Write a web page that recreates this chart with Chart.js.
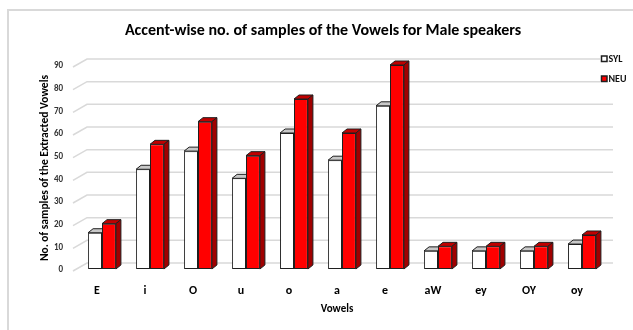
<!DOCTYPE html>
<html>
<head>
<meta charset="utf-8">
<script src="https://cdn.jsdelivr.net/npm/chart.js@4/dist/chart.umd.min.js"></script>
<style>
  html, body { margin: 0; padding: 0; background: #fff; overflow: hidden; }
  #wrap { width: 633px; height: 330px; position: relative; }
</style>
</head>
<body>
<div id="wrap"><canvas id="c" width="633" height="330"></canvas></div>
<script>
// Vowel categories and sample counts per accent
const vowels = ['E', 'i', 'O', 'u', 'o', 'a', 'e', 'aW', 'ey', 'OY', 'oy'];
const sylSamples = [16, 44, 52, 40, 60, 48, 72, 8, 8, 8, 11];
const neuSamples = [20, 55, 65, 50, 75, 60, 90, 10, 10, 10, 15];
const seriesNames = ['SYL', 'NEU'];
const chartTitle = 'Accent-wise no. of samples of the Vowels for Male speakers';
const xTitle = 'Vowels';
const yTitle = 'No. of samples of the Extracted Vowels';

const FONT = "Carlito, 'Liberation Sans Narrow', 'DejaVu Sans Condensed', Arial, sans-serif";
const FLOOR = { dx: 14, dy: 7 };      // depth of the back wall / floor
const BAR_DEPTH = { dx: 5, dy: 4 };   // depth of each column
const BAR_SHIFT = { x: 5, y: -1 };    // columns sit in the middle of the floor depth
const GRID_COLOR = '#d9d9d9';
const EDGE = '#1f1f1f';

// light frame around the whole chart, plus the heading
const framePlugin = {
  id: 'frame',
  beforeDraw(chart) {
    const ctx = chart.ctx;
    ctx.save();
    ctx.fillStyle = '#fff';
    ctx.fillRect(0, 0, chart.width, chart.height);
    ctx.strokeStyle = '#d9d9d9';
    ctx.lineWidth = 2;
    ctx.strokeRect(8, 10, chart.width + 40, chart.height + 40);
    ctx.fillStyle = '#000';
    ctx.font = "bold 16px " + FONT;
    ctx.textAlign = 'center';
    ctx.textBaseline = 'middle';
    ctx.fillText(chartTitle, 323, 31);
    ctx.restore();
  }
};

// back-wall gridlines with a short diagonal on the left side wall
const grid3dPlugin = {
  id: 'grid3d',
  beforeDatasetsDraw(chart) {
    const ctx = chart.ctx;
    const ys = chart.scales.y;
    const area = chart.chartArea;
    ctx.save();
    ctx.strokeStyle = GRID_COLOR;
    ctx.lineWidth = 1.5;
    ys.ticks.forEach(t => {
      const y = ys.getPixelForValue(t.value);
      ctx.beginPath();
      ctx.moveTo(area.left, y + 1);
      ctx.lineTo(area.left + FLOOR.dx, y - FLOOR.dy);
      ctx.lineTo(area.right + 12, y - FLOOR.dy);
      ctx.stroke();
    });
    ctx.restore();
    // shift the columns into the depth of the floor
    ctx.save();
    ctx.translate(BAR_SHIFT.x, BAR_SHIFT.y);
  },
  afterDatasetDraw(chart, args) {
    const ctx = chart.ctx;
    const meta = args.meta;
    const idx = args.index;
    const topColor = idx === 0 ? '#c8c8c8' : '#c00000';
    const sideColor = idx === 0 ? '#d9d9d9' : '#a00000';
    meta.data.forEach(el => {
      const p = el.getProps(['x', 'y', 'base', 'width'], true);
      const l = p.x - p.width / 2, r = p.x + p.width / 2;
      const t = p.y, b = p.base;
      ctx.save();
      ctx.lineWidth = 1;
      ctx.strokeStyle = EDGE;
      ctx.lineJoin = 'round';
      if (idx === 0) {
        // the neighbouring column hides the right part of this one
        ctx.beginPath();
        ctx.rect(l - 2, 0, p.width + 2, chart.height);
        ctx.clip();
      }
      // top face
      ctx.beginPath();
      ctx.moveTo(l, t);
      ctx.lineTo(l + BAR_DEPTH.dx, t - BAR_DEPTH.dy);
      ctx.lineTo(r + BAR_DEPTH.dx, t - BAR_DEPTH.dy);
      ctx.lineTo(r, t);
      ctx.closePath();
      ctx.fillStyle = topColor;
      ctx.fill();
      ctx.stroke();
      // side face
      ctx.beginPath();
      ctx.moveTo(r, t);
      ctx.lineTo(r + BAR_DEPTH.dx, t - BAR_DEPTH.dy);
      ctx.lineTo(r + BAR_DEPTH.dx, b - BAR_DEPTH.dy);
      ctx.lineTo(r, b);
      ctx.closePath();
      ctx.fillStyle = sideColor;
      ctx.fill();
      ctx.stroke();
      ctx.restore();
    });
  },
  afterDatasetsDraw(chart) {
    chart.ctx.restore();
  }
};

// compact legend in the upper right corner
const cornerLegendPlugin = {
  id: 'cornerLegend',
  afterDraw(chart) {
    const ctx = chart.ctx;
    ctx.save();
    chart.data.datasets.forEach((ds, i) => {
      const y = 59 + i * 20;
      ctx.fillStyle = '#fff';
      ctx.fillRect(600, y - 6, 33, 12);
      ctx.fillStyle = ds.backgroundColor;
      ctx.fillRect(601.5, y - 3, 5.5, 5.5);
      ctx.strokeStyle = EDGE;
      ctx.lineWidth = 1.5;
      ctx.strokeRect(601.5, y - 3, 5.5, 5.5);
      ctx.fillStyle = '#111';
      ctx.font = "bold 10px " + FONT;
      ctx.textBaseline = 'middle';
      ctx.textAlign = 'left';
      ctx.fillText(ds.label, 608.5, y);
    });
    ctx.restore();
  }
};

new Chart(document.getElementById('c'), {
  type: 'bar',
  data: {
    labels: vowels,
    datasets: [
      {
        label: seriesNames[0],
        data: sylSamples,
        backgroundColor: '#ffffff',
        borderColor: EDGE,
        borderWidth: 1,
        borderSkipped: false,
        categoryPercentage: 0.58,
        barPercentage: 1.0,
        clip: false
      },
      {
        label: seriesNames[1],
        data: neuSamples,
        backgroundColor: '#ff0000',
        borderColor: EDGE,
        borderWidth: 1,
        borderSkipped: false,
        categoryPercentage: 0.58,
        barPercentage: 1.0,
        clip: false
      }
    ]
  },
  options: {
    responsive: false,
    animation: false,
    devicePixelRatio: 1,
    layout: { padding: { left: 0, right: 32, top: 66, bottom: 0 } },
    plugins: {
      legend: { display: false },
      tooltip: { enabled: false },
      title: { display: false }
    },
    scales: {
      x: {
        grid: { display: false, drawTicks: false },
        border: { display: false },
        ticks: {
          color: '#000',
          font: { family: FONT, size: 12, weight: 'bold' },
          padding: 14,
          maxRotation: 0
        },
        title: {
          display: true,
          text: xTitle,
          color: '#000',
          font: { family: FONT, size: 11, weight: 'bold' },
          padding: { top: 0, bottom: 14 }
        },
        afterFit(scale) { scale.height = 60; }
      },
      y: {
        min: 0,
        max: 90,
        grid: { display: false, drawTicks: false },
        border: { display: false },
        ticks: {
          stepSize: 10,
          color: '#333',
          font: { family: FONT, size: 9, weight: 'bold' },
          padding: 10
        },
        title: {
          display: true,
          text: yTitle,
          color: '#000',
          font: { family: FONT, size: 11.5, weight: 'bold' },
          padding: { top: 38, bottom: 0 }
        },
        afterFit(scale) { scale.width = 73; }
      }
    }
  },
  plugins: [framePlugin, grid3dPlugin, cornerLegendPlugin]
});
</script>
</body>
</html>
